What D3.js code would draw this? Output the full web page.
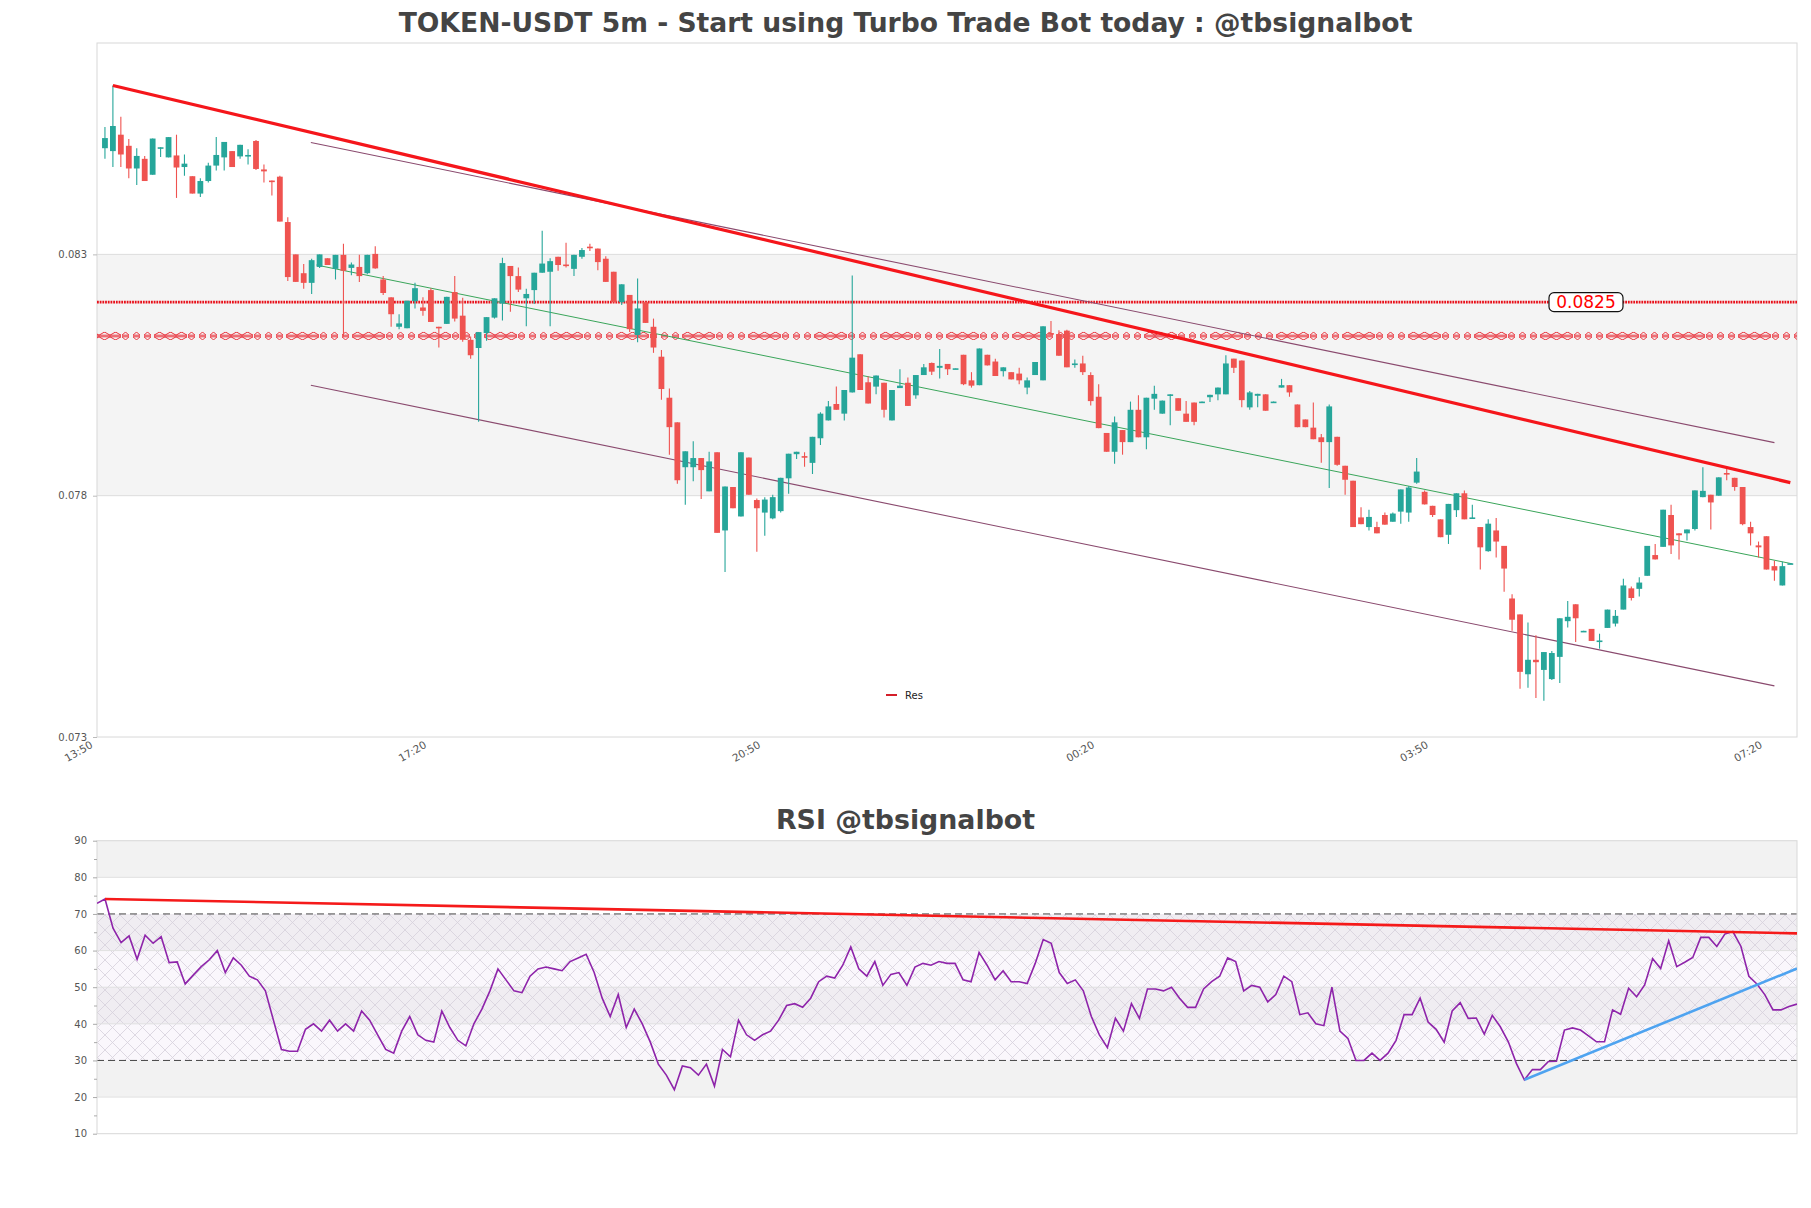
<!DOCTYPE html>
<html><head><meta charset="utf-8">
<script src="https://cdn.jsdelivr.net/npm/d3@7"></script>
<style>body{margin:0;background:#fff;} svg{display:block;font-family:"DejaVu Sans",sans-serif;}</style>
</head><body><svg id="c" width="1811" height="1208"></svg>
<script>
// ---------- DATA ----------
const tickIndex = [-1, 41, 83, 125, 167, 209];
const tickLabels = ["13:50", "17:20", "20:50", "00:20", "03:50", "07:20"];
const priceTicks = [0.073, 0.078, 0.083];
const rsiTicks = [10, 20, 30, 40, 50, 60, 70, 80, 90];

const open = [0.08520,0.08514,0.08548,0.08525,0.08478,0.08498,0.08465,0.08519,0.08501,0.08505,0.08481,0.08462,0.08426,0.08452,0.08484,0.08501,0.08514,0.08503,0.08503,0.08535,
0.08476,0.08453,0.08461,0.08367,0.08300,0.08261,0.08241,0.08274,0.08292,0.08270,0.08299,0.08272,0.08274,0.08261,0.08301,0.08248,0.08211,0.08150,0.08147,0.08203,
0.08190,0.08226,0.08150,0.08156,0.08222,0.08173,0.08123,0.08106,0.08137,0.08169,0.08198,0.08276,0.08255,0.08209,0.08226,0.08262,0.08264,0.08295,0.08279,0.08270,
0.08295,0.08316,0.08312,0.08291,0.08264,0.08201,0.08216,0.08133,0.08201,0.08150,0.08088,0.08003,0.07952,0.07859,0.07859,0.07878,0.07809,0.07890,0.07728,0.07818,
0.07757,0.07879,0.07791,0.07765,0.07753,0.07768,0.07836,0.07886,0.07882,0.07868,0.07919,0.07956,0.07990,0.07970,0.08014,0.08093,0.08035,0.08026,0.08034,0.07956,
0.08023,0.08034,0.08008,0.08050,0.08075,0.08065,0.08073,0.08063,0.08092,0.08039,0.08029,0.08092,0.08078,0.08058,0.08056,0.08053,0.08024,0.08050,0.08039,0.08137,
0.08135,0.08142,0.08071,0.08074,0.08050,0.08005,0.07930,0.07891,0.07936,0.07911,0.07978,0.07921,0.08001,0.07970,0.08007,0.08002,0.07970,0.07993,0.07994,0.08004,
0.08010,0.08010,0.08084,0.08080,0.07983,0.08007,0.08010,0.07994,0.08024,0.08029,0.07989,0.07958,0.07941,0.07921,0.07911,0.07922,0.07862,0.07831,0.07755,0.07735,
0.07735,0.07760,0.07746,0.07767,0.07765,0.07827,0.07808,0.07779,0.07751,0.07719,0.07770,0.07805,0.07753,0.07735,0.07685,0.07728,0.07696,0.07587,0.07554,0.07430,
0.07460,0.07439,0.07420,0.07466,0.07540,0.07575,0.07518,0.07524,0.07497,0.07526,0.07535,0.07564,0.07608,0.07607,0.07634,0.07677,0.07694,0.07760,0.07722,0.07722,
0.07731,0.07797,0.07802,0.07800,0.07847,0.07837,0.07818,0.07735,0.07697,0.07716,0.07654,0.07614,0.07658];
const high = [0.08564,0.08650,0.08585,0.08539,0.08520,0.08504,0.08540,0.08522,0.08543,0.08548,0.08507,0.08462,0.08458,0.08490,0.08543,0.08533,0.08514,0.08527,0.08518,0.08537,
0.08486,0.08453,0.08463,0.08377,0.08300,0.08280,0.08291,0.08300,0.08292,0.08299,0.08322,0.08283,0.08299,0.08299,0.08317,0.08255,0.08211,0.08176,0.08204,0.08241,
0.08211,0.08230,0.08150,0.08212,0.08255,0.08210,0.08130,0.08139,0.08170,0.08209,0.08293,0.08276,0.08273,0.08229,0.08262,0.08349,0.08292,0.08295,0.08324,0.08299,
0.08313,0.08322,0.08312,0.08296,0.08264,0.08238,0.08216,0.08250,0.08201,0.08167,0.08102,0.08022,0.07952,0.07892,0.07913,0.07878,0.07891,0.07890,0.07819,0.07818,
0.07890,0.07879,0.07794,0.07797,0.07802,0.07837,0.07887,0.07891,0.07890,0.07922,0.07973,0.07996,0.08026,0.08019,0.08256,0.08093,0.08047,0.08049,0.08034,0.08019,
0.08062,0.08045,0.08050,0.08073,0.08076,0.08104,0.08073,0.08064,0.08092,0.08056,0.08105,0.08092,0.08084,0.08066,0.08056,0.08065,0.08045,0.08077,0.08151,0.08162,
0.08143,0.08144,0.08082,0.08090,0.08056,0.08031,0.07930,0.07964,0.07936,0.07995,0.08008,0.08003,0.08028,0.07997,0.08010,0.08002,0.07996,0.07993,0.07995,0.08009,
0.08024,0.08091,0.08084,0.08080,0.08017,0.08011,0.08010,0.07995,0.08042,0.08029,0.07989,0.07958,0.07993,0.07928,0.07989,0.07922,0.07862,0.07831,0.07776,0.07771,
0.07746,0.07765,0.07765,0.07813,0.07820,0.07878,0.07811,0.07779,0.07751,0.07783,0.07805,0.07811,0.07781,0.07735,0.07751,0.07754,0.07696,0.07596,0.07554,0.07537,
0.07511,0.07476,0.07478,0.07546,0.07582,0.07575,0.07520,0.07524,0.07514,0.07564,0.07563,0.07628,0.07612,0.07631,0.07696,0.07700,0.07771,0.07781,0.07722,0.07730,
0.07811,0.07859,0.07802,0.07838,0.07857,0.07837,0.07818,0.07746,0.07705,0.07716,0.07665,0.07663,0.07660];
const low = [0.08498,0.08481,0.08481,0.08458,0.08444,0.08452,0.08465,0.08502,0.08501,0.08417,0.08463,0.08426,0.08419,0.08449,0.08474,0.08474,0.08481,0.08498,0.08486,0.08475,
0.08449,0.08422,0.08368,0.08245,0.08243,0.08229,0.08218,0.08272,0.08278,0.08248,0.08130,0.08257,0.08243,0.08259,0.08270,0.08216,0.08150,0.08145,0.08147,0.08188,
0.08173,0.08160,0.08107,0.08156,0.08161,0.08119,0.08084,0.07953,0.08121,0.08167,0.08163,0.08181,0.08222,0.08151,0.08197,0.08262,0.08151,0.08266,0.08273,0.08255,
0.08291,0.08307,0.08267,0.08243,0.08201,0.08195,0.08139,0.08118,0.08158,0.08096,0.07999,0.07885,0.07825,0.07781,0.07830,0.07793,0.07809,0.07723,0.07642,0.07774,
0.07757,0.07802,0.07684,0.07717,0.07751,0.07765,0.07804,0.07876,0.07860,0.07845,0.07905,0.07956,0.07978,0.07956,0.08014,0.08019,0.07991,0.08010,0.07962,0.07956,
0.08023,0.07986,0.08001,0.08050,0.08050,0.08043,0.08050,0.08063,0.08029,0.08024,0.08029,0.08070,0.08048,0.08047,0.08041,0.08031,0.08010,0.08050,0.08039,0.08132,
0.08090,0.08066,0.08065,0.08050,0.07987,0.07940,0.07891,0.07866,0.07885,0.07911,0.07921,0.07896,0.07978,0.07970,0.07946,0.07976,0.07953,0.07946,0.07994,0.07994,
0.07998,0.08010,0.08054,0.07983,0.07978,0.07983,0.07976,0.07994,0.08024,0.08005,0.07942,0.07942,0.07917,0.07868,0.07816,0.07862,0.07802,0.07735,0.07741,0.07728,
0.07722,0.07740,0.07746,0.07742,0.07746,0.07825,0.07782,0.07756,0.07714,0.07700,0.07756,0.07751,0.07753,0.07647,0.07684,0.07672,0.07601,0.07520,0.07400,0.07402,
0.07381,0.07375,0.07418,0.07412,0.07527,0.07497,0.07518,0.07499,0.07483,0.07526,0.07529,0.07564,0.07583,0.07591,0.07634,0.07668,0.07694,0.07679,0.07668,0.07707,
0.07728,0.07797,0.07730,0.07800,0.07832,0.07810,0.07739,0.07697,0.07672,0.07647,0.07624,0.07614,0.07658];
const close = [0.08541,0.08566,0.08507,0.08478,0.08504,0.08452,0.08540,0.08522,0.08543,0.08480,0.08488,0.08426,0.08452,0.08484,0.08506,0.08533,0.08481,0.08527,0.08506,0.08477,
0.08472,0.08452,0.08368,0.08253,0.08243,0.08241,0.08288,0.08300,0.08278,0.08299,0.08266,0.08279,0.08255,0.08299,0.08271,0.08220,0.08176,0.08157,0.08204,0.08230,
0.08183,0.08160,0.08148,0.08212,0.08167,0.08123,0.08091,0.08139,0.08170,0.08209,0.08282,0.08255,0.08227,0.08218,0.08262,0.08281,0.08286,0.08278,0.08277,0.08299,
0.08309,0.08314,0.08284,0.08243,0.08201,0.08238,0.08145,0.08188,0.08158,0.08107,0.08021,0.07942,0.07832,0.07892,0.07878,0.07853,0.07871,0.07723,0.07819,0.07774,
0.07890,0.07802,0.07774,0.07792,0.07797,0.07837,0.07887,0.07891,0.07879,0.07922,0.07970,0.07985,0.07978,0.08019,0.08086,0.08019,0.07991,0.08049,0.07978,0.08019,
0.08028,0.07986,0.08050,0.08066,0.08057,0.08069,0.08062,0.08064,0.08031,0.08028,0.08105,0.08070,0.08048,0.08066,0.08041,0.08039,0.08039,0.08077,0.08151,0.08134,
0.08090,0.08066,0.08074,0.08056,0.07996,0.07940,0.07891,0.07952,0.07911,0.07978,0.07921,0.08003,0.08011,0.07997,0.08010,0.07976,0.07953,0.07953,0.07995,0.08009,
0.08024,0.08074,0.08065,0.07998,0.08014,0.08011,0.07976,0.07995,0.08029,0.08014,0.07942,0.07942,0.07917,0.07911,0.07985,0.07864,0.07833,0.07735,0.07741,0.07756,
0.07722,0.07740,0.07763,0.07813,0.07817,0.07850,0.07782,0.07760,0.07714,0.07783,0.07805,0.07751,0.07755,0.07693,0.07742,0.07705,0.07649,0.07543,0.07435,0.07460,
0.07455,0.07476,0.07474,0.07546,0.07549,0.07546,0.07520,0.07499,0.07500,0.07564,0.07551,0.07614,0.07588,0.07620,0.07696,0.07668,0.07771,0.07697,0.07718,0.07730,
0.07811,0.07810,0.07786,0.07838,0.07844,0.07818,0.07741,0.07722,0.07693,0.07647,0.07645,0.07654,0.07660];

const rsi = [72.9,74.1,66.1,62.2,64.0,57.6,64.2,62.0,63.8,56.7,56.9,50.9,53.3,55.6,57.5,60.0,54.0,58.0,56.0,53.0,
52.0,49.0,41.0,33.0,32.5,32.5,38.5,40.0,38.0,41.0,38.0,40.0,38.0,43.5,41.0,37.0,33.0,32.0,38.0,42.0,
37.0,35.5,35.0,43.5,39.0,35.5,34.0,40.0,44.0,49.0,55.0,52.0,49.0,48.5,53.0,55.0,55.5,55.0,54.5,57.0,
58.0,59.0,54.0,47.0,42.0,48.0,39.0,44.0,40.0,35.0,29.0,26.0,22.0,28.5,28.0,26.0,29.0,23.0,33.0,31.0,
41.0,37.0,35.5,37.0,38.0,41.0,45.0,45.5,44.5,47.0,51.5,53.0,52.5,56.0,61.0,55.0,53.0,57.0,50.5,53.5,
54.0,50.5,55.5,56.5,56.0,57.0,56.5,56.5,52.0,51.5,59.5,56.0,52.0,54.5,51.5,51.5,51.0,56.5,63.0,62.0,
54.0,51.0,52.0,49.0,42.0,37.0,33.5,41.5,38.0,45.5,41.5,49.5,49.5,49.0,50.0,47.0,44.5,44.5,49.5,51.5,
53.0,58.0,57.0,49.0,50.5,50.0,46.0,48.0,53.0,51.5,42.5,43.0,40.0,39.5,50.0,38.0,36.0,30.0,30.0,32.0,
30.0,32.0,35.5,42.5,42.5,47.0,40.5,38.5,35.0,43.5,45.8,41.5,41.6,37.2,42.3,39.2,35.1,29.2,24.7,27.5,
27.5,29.7,29.8,38.3,38.9,38.3,36.7,35.1,35.1,43.8,42.6,49.7,47.4,50.6,57.8,55.1,62.7,55.6,56.8,58.1,
63.6,63.6,61.1,64.5,65.2,61.2,53.0,50.9,47.9,43.8,43.8,44.7,45.4];

const resLevel = 0.08201;
const resLabel = "0.0825";
const hatchLevel = 0.08131;
const trendRed = [[1, 0.08650], [212, 0.07827]];
const channelUpper = [[25.9, 0.08532], [210, 0.07910]];
const channelLower = [[25.9, 0.08029], [210, 0.07406]];
const channelMid = [[26.6, 0.08278], [212.2, 0.07659]];
const rsiRes = [[1, 74.1], [212, 64.7]];
const rsiSup = [[178, 24.7], [212, 55.1]];

// ---------- LAYOUT ----------
const svg = d3.select("#c");
const L = 97, R = 1797, T = 43, B = 737;
const RT = 840.7, RB = 1133.7;
const UP = "#26a69a", DN = "#ef5350";

const x = d3.scaleLinear().domain([-1, 212.84]).range([L, R]);
const y = d3.scaleLinear().domain([0.073, 0.08738]).range([B, T]);
const xr = d3.scaleLinear().domain([0, 212]).range([L, R]);
const yr = d3.scaleLinear().domain([10, 90]).range([RB, RT]);

const defs = svg.append("defs");
defs.append("clipPath").attr("id", "cm").append("rect").attr("x", L).attr("y", T).attr("width", R - L).attr("height", B - T);
defs.append("clipPath").attr("id", "cr").append("rect").attr("x", L).attr("y", RT).attr("width", R - L).attr("height", RB - RT);
// hatched level pattern (hourglass marks + linked ovals)
const xp = defs.append("pattern").attr("id", "xh").attr("patternUnits", "userSpaceOnUse").attr("width", 66).attr("height", 8);
const hg = (a) => `M${a},0.8 L${a + 7},0.8 L${a},7.2 L${a + 7},7.2 Z`;
xp.append("path").attr("d", hg(1) + hg(12) + hg(56)).attr("stroke", "#e8202a").attr("stroke-width", 0.9).attr("fill", "none");
xp.append("path").attr("d", "M22,0.8 L33,7.2 L44,0.8 L55,7.2 M22,7.2 L33,0.8 L44,7.2 L55,0.8 M22,0.8 L55,0.8 M22,7.2 L55,7.2")
  .attr("stroke", "#e8202a").attr("stroke-width", 0.9).attr("fill", "none");
const hp = defs.append("pattern").attr("id", "rh").attr("patternUnits", "userSpaceOnUse").attr("width", 15).attr("height", 15);
hp.append("path").attr("d", "M0,0 L15,15 M0,15 L15,0").attr("stroke", "#d6d0dc").attr("stroke-width", 0.8).attr("fill", "none");

// ---------- MAIN PANEL ----------
svg.append("rect").attr("x", L).attr("y", y(0.083)).attr("width", R - L).attr("height", y(0.078) - y(0.083)).attr("fill", "#f4f4f4");
svg.selectAll(".gl").data([0.078, 0.083]).join("line").attr("x1", L).attr("x2", R)
  .attr("y1", d => y(d)).attr("y2", d => y(d)).attr("stroke", "#dcdcdc");
svg.append("rect").attr("x", L).attr("y", T).attr("width", R - L).attr("height", B - T).attr("fill", "none").attr("stroke", "#d8d8d8");

const gm = svg.append("g").attr("clip-path", "url(#cm)");
gm.append("rect").attr("x", L).attr("width", R - L).attr("y", y(hatchLevel) - 4).attr("height", 8).attr("fill", "url(#xh)");
gm.append("line").attr("x1", L).attr("x2", R).attr("y1", y(resLevel)).attr("y2", y(resLevel))
  .attr("stroke", "#e8101a").attr("stroke-width", 2.8).attr("stroke-dasharray", "1.8,0.9");

const line = d3.line().x(d => x(d[0])).y(d => y(d[1]));
gm.append("path").datum(channelUpper).attr("d", line).attr("stroke", "#8a4a6e").attr("stroke-width", 1.1).attr("fill", "none");
gm.append("path").datum(channelLower).attr("d", line).attr("stroke", "#8a4a6e").attr("stroke-width", 1.1).attr("fill", "none");
gm.append("path").datum(channelMid).attr("d", line).attr("stroke", "#3aa55a").attr("stroke-width", 1).attr("fill", "none");

const idx = d3.range(open.length);
const cg = gm.append("g");
cg.selectAll(".wk").data(idx).join("line")
  .attr("x1", i => x(i)).attr("x2", i => x(i))
  .attr("y1", i => y(high[i])).attr("y2", i => y(low[i]))
  .attr("stroke", i => close[i] >= open[i] ? UP : DN).attr("stroke-width", 1.1);
cg.selectAll(".bd").data(idx).join("rect")
  .attr("x", i => x(i) - 2.9).attr("width", 5.8)
  .attr("y", i => y(Math.max(open[i], close[i])))
  .attr("height", i => Math.max(1.6, Math.abs(y(open[i]) - y(close[i]))))
  .attr("fill", i => close[i] >= open[i] ? UP : DN);

gm.append("path").datum(trendRed).attr("d", line).attr("stroke", "#f5161b").attr("stroke-width", 3.2).attr("fill", "none");

const ly = y(resLevel);
svg.append("rect").attr("x", 1549).attr("y", ly - 9.5).attr("width", 74).attr("height", 19).attr("rx", 5)
  .attr("fill", "#fff").attr("stroke", "#111").attr("stroke-width", 1.2);
svg.append("text").attr("x", 1586).attr("y", ly + 6).attr("text-anchor", "middle")
  .attr("font-size", 17).attr("fill", "#f00").text(resLabel);

svg.append("line").attr("x1", 886).attr("x2", 897).attr("y1", 695).attr("y2", 695).attr("stroke", "#d41f2a").attr("stroke-width", 2);
svg.append("text").attr("x", 905).attr("y", 698.5).attr("font-size", 10).attr("fill", "#222").text("Res");

const ya = svg.append("g").attr("transform", `translate(${L},0)`)
  .call(d3.axisLeft(y).tickValues(priceTicks).tickFormat(d3.format(".3f")).tickSize(4).tickPadding(6));
ya.select(".domain").remove();
ya.selectAll("line").attr("stroke", "#bbb");
ya.selectAll("text").attr("font-size", 10).attr("fill", "#555").attr("font-family", "DejaVu Sans");

const xa = svg.append("g").attr("transform", `translate(0,${B})`)
  .call(d3.axisBottom(x).tickValues(tickIndex).tickFormat((d, i) => tickLabels[i]).tickSize(0));
xa.select(".domain").remove();
xa.selectAll("text").attr("y", 0).attr("dy", 0).attr("text-anchor", "end")
  .attr("transform", "translate(-4,10) rotate(-30)")
  .attr("font-size", 10.5).attr("fill", "#555").attr("font-family", "DejaVu Sans");

svg.append("text").attr("x", 905.5).attr("y", 32).attr("text-anchor", "middle")
  .attr("font-size", 26.6).attr("font-weight", "bold").attr("fill", "#444")
  .text("TOKEN-USDT 5m - Start using Turbo Trade Bot today : @tbsignalbot");

// ---------- RSI PANEL ----------
svg.append("text").attr("x", 905.5).attr("y", 829).attr("text-anchor", "middle")
  .attr("font-size", 26.8).attr("font-weight", "bold").attr("fill", "#444").text("RSI @tbsignalbot");

const grayBands = [[80, 90], [60, 70], [40, 50], [20, 30]];
svg.selectAll(".gb").data(grayBands).join("rect").attr("x", L).attr("width", R - L)
  .attr("y", d => yr(d[1])).attr("height", d => yr(d[0]) - yr(d[1])).attr("fill", "#f2f2f2");
svg.append("rect").attr("x", L).attr("width", R - L).attr("y", yr(70)).attr("height", yr(30) - yr(70))
  .attr("fill", "rgba(235,225,242,0.25)");
svg.append("rect").attr("x", L).attr("width", R - L).attr("y", yr(70)).attr("height", yr(30) - yr(70))
  .attr("fill", "url(#rh)").attr("clip-path", "url(#cr)");
svg.selectAll(".rg").data([20, 40, 50, 60, 80]).join("line").attr("x1", L).attr("x2", R)
  .attr("y1", d => yr(d)).attr("y2", d => yr(d)).attr("stroke", "#e0e0e0");
svg.selectAll(".rd").data([30, 70]).join("line").attr("x1", L).attr("x2", R)
  .attr("y1", d => yr(d)).attr("y2", d => yr(d)).attr("stroke", "#444").attr("stroke-dasharray", "7,4").attr("stroke-width", 1);
svg.append("rect").attr("x", L).attr("y", RT).attr("width", R - L).attr("height", RB - RT).attr("fill", "none").attr("stroke", "#d8d8d8");

const ra = svg.append("g").attr("transform", `translate(${L},0)`)
  .call(d3.axisLeft(yr).tickValues(rsiTicks).tickSize(4).tickPadding(6));
ra.select(".domain").remove();
ra.selectAll("line").attr("stroke", "#aaa");
ra.selectAll("text").attr("font-size", 10).attr("fill", "#555").attr("font-family", "DejaVu Sans");
const rm = svg.append("g").attr("transform", `translate(${L},0)`)
  .call(d3.axisLeft(yr).tickValues(d3.range(15, 90, 10)).tickSize(3).tickFormat(""));
rm.select(".domain").remove();
rm.selectAll("line").attr("stroke", "#aaa");

const gr = svg.append("g").attr("clip-path", "url(#cr)");
const rline = d3.line().x((d, i) => xr(i)).y(d => yr(d));
gr.append("path").datum(rsi).attr("d", rline).attr("stroke", "#8e24aa").attr("stroke-width", 1.6).attr("fill", "none");
const tl = d3.line().x(d => xr(d[0])).y(d => yr(d[1]));
gr.append("path").datum(rsiRes).attr("d", tl).attr("stroke", "#f51a1a").attr("stroke-width", 2.6).attr("fill", "none");
gr.append("path").datum(rsiSup).attr("d", tl).attr("stroke", "#4ea3f0").attr("stroke-width", 2.6).attr("fill", "none");
</script></body></html>
